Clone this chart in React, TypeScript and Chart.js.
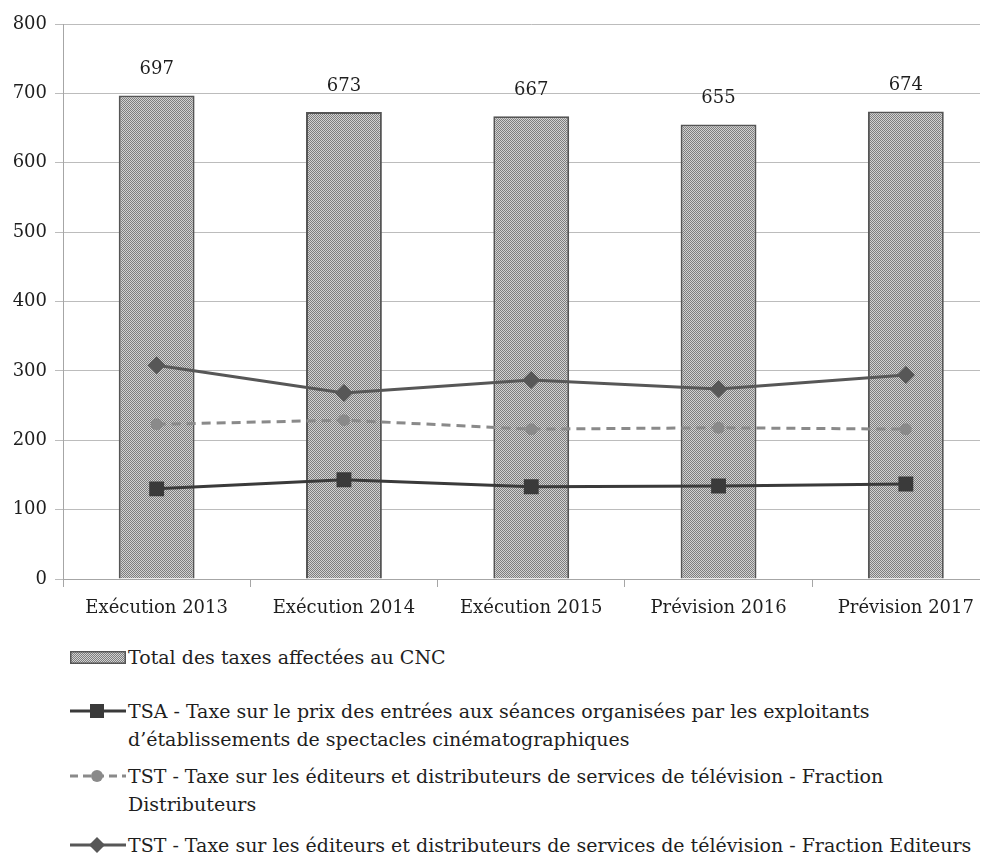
import React, { useEffect, useRef } from "react";
import { Chart, registerables } from "chart.js";

Chart.register(...registerables);

const categories = ["Exécution 2013", "Exécution 2014", "Exécution 2015", "Prévision 2016", "Prévision 2017"];
const totalTaxes = [697, 673, 667, 655, 674];
const tsa = [130, 143, 133, 134, 137];
const tstDistributeurs = [223, 229, 216, 218, 216];
const tstEditeurs = [308, 268, 287, 274, 294];
const yTicks = [0, 100, 200, 300, 400, 500, 600, 700, 800];

const labelTotal = "Total des taxes affectées au CNC";
const labelTsa = ["TSA - Taxe sur le prix des entrées aux séances organisées par les exploitants", "d’établissements de spectacles cinématographiques"];
const labelDistrib = ["TST - Taxe sur les éditeurs et distributeurs de services de télévision - Fraction", "Distributeurs"];
const labelEditeurs = ["TST - Taxe sur les éditeurs et distributeurs de services de télévision - Fraction Editeurs"];

const FONT = "'DejaVu Serif', serif";
const FS = 18;
const LFS = 19;
const TEXT = "#1e1e1e";
const C_TSA = "#3a3a3a";
const C_DIS = "#8a8a8a";
const C_EDI = "#575757";

function makePattern(): CanvasPattern | string {
  const c = document.createElement("canvas");
  c.width = 2;
  c.height = 2;
  const g = c.getContext("2d");
  if (!g) return "#a8a8a8";
  g.fillStyle = "#d2d2d2";
  g.fillRect(0, 0, 2, 2);
  g.fillStyle = "#7e7e7e";
  g.fillRect(0, 0, 1, 1);
  g.fillRect(1, 1, 1, 1);
  const p = g.createPattern(c, "repeat");
  return p || "#a8a8a8";
}

const valueLabels = {
  id: "valueLabels",
  afterDatasetsDraw(chart: any) {
    const meta = chart.getDatasetMeta(0);
    const ctx = chart.ctx;
    ctx.save();
    ctx.font = `${FS}px ${FONT}`;
    ctx.fillStyle = TEXT;
    ctx.textAlign = "center";
    ctx.textBaseline = "middle";
    meta.data.forEach((bar: any, i: number) => {
      ctx.fillText(String(totalTaxes[i]), bar.x, bar.y - 26);
    });
    ctx.restore();
  },
};

export default function App() {
  const ref = useRef<HTMLCanvasElement>(null);
  useEffect(() => {
    if (!ref.current) return;
    const pattern = makePattern();
    const chart = new Chart(ref.current, {
      type: "bar",
      data: {
        labels: categories,
        datasets: [
          {
            type: "bar",
            label: labelTotal,
            data: totalTaxes,
            backgroundColor: pattern as any,
            borderColor: "#555555",
            borderWidth: 2,
            barPercentage: 0.405,
            categoryPercentage: 1,
            order: 10,
          },
          {
            type: "line",
            label: labelTsa.join(" "),
            data: tsa,
            borderColor: C_TSA,
            backgroundColor: C_TSA,
            borderWidth: 3,
            pointStyle: "rect",
            pointRadius: 10.5,
            pointBorderWidth: 0,
            order: 3,
          },
          {
            type: "line",
            label: labelDistrib.join(" "),
            data: tstDistributeurs,
            borderColor: C_DIS,
            backgroundColor: C_DIS,
            borderWidth: 3,
            borderDash: [9, 6],
            pointStyle: "circle",
            pointRadius: 6,
            pointBorderWidth: 0,
            order: 2,
          },
          {
            type: "line",
            label: labelEditeurs.join(" "),
            data: tstEditeurs,
            borderColor: C_EDI,
            backgroundColor: C_EDI,
            borderWidth: 3,
            pointStyle: "rectRot",
            pointRadius: 9,
            pointBorderWidth: 0,
            order: 1,
          },
        ],
      },
      options: {
        responsive: false,
        animation: false,
        layout: { padding: { top: 24, right: 0, left: 0, bottom: 0 } },
        plugins: {
          legend: { display: false },
          tooltip: { enabled: false },
        },
        scales: {
          x: {
            offset: true,
            grid: {
              offset: true,
              drawOnChartArea: false,
              drawTicks: true,
              tickLength: 8,
              color: "#a6a6a6",
            },
            border: { color: "#a6a6a6", width: 1 },
            ticks: {
              color: TEXT,
              font: { family: FONT, size: FS },
              padding: 11,
              maxRotation: 0,
            },
            afterFit(scale: any) {
              scale.height = 46;
            },
          },
          y: {
            min: 0,
            max: 800,
            afterBuildTicks(scale: any) {
              scale.ticks = yTicks.map((v) => ({ value: v }));
            },
            grid: {
              color: "#bcbcbc",
              lineWidth: 1,
              drawTicks: true,
              tickLength: 8,
            },
            border: { color: "#a6a6a6", width: 1 },
            ticks: {
              color: TEXT,
              font: { family: FONT, size: FS },
              padding: 8,
            },
            afterFit(scale: any) {
              scale.width = 63;
            },
          },
        },
      },
      plugins: [valueLabels],
    });
    return () => chart.destroy();
  }, []);

  const textStyle: React.CSSProperties = {
    position: "absolute",
    left: 128,
    fontFamily: FONT,
    fontSize: LFS,
    color: TEXT,
    lineHeight: "28px",
    whiteSpace: "nowrap",
  };

  const lineSwatch = (top: number, color: string, dash: boolean, marker: "rect" | "circle" | "diamond") => (
    <svg style={{ position: "absolute", left: 68, top: top - 10 }} width={60} height={20}>
      <line x1={2} y1={10} x2={58} y2={10} stroke={color} strokeWidth={3} strokeDasharray={dash ? "8 5" : undefined} />
      {marker === "rect" && <rect x={22} y={3} width={14} height={14} fill={color} />}
      {marker === "circle" && <circle cx={29} cy={10} r={6} fill={color} />}
      {marker === "diamond" && <polygon points="29,2 37,10 29,18 21,10" fill={color} />}
    </svg>
  );

  return (
    <div style={{ position: "relative", margin: -8, width: 988, height: 861, overflow: "hidden", background: "#fff" }}>
      <canvas ref={ref} width={1010} height={625} style={{ position: "absolute", left: 0, top: 0 }} />
      <svg style={{ position: "absolute", left: 70, top: 651 }} width={56} height={13}>
        <defs>
          <pattern id="chk" width={2} height={2} patternUnits="userSpaceOnUse">
            <rect width={2} height={2} fill="#d2d2d2" />
            <rect width={1} height={1} fill="#7e7e7e" />
            <rect x={1} y={1} width={1} height={1} fill="#7e7e7e" />
          </pattern>
        </defs>
        <rect x={0.75} y={0.75} width={54.5} height={11.5} fill="url(#chk)" stroke="#555" strokeWidth={1.5} />
      </svg>
      <div style={{ ...textStyle, top: 643 }}>{labelTotal}</div>

      {lineSwatch(711, C_TSA, false, "rect")}
      <div style={{ ...textStyle, top: 697 }}>
        {labelTsa[0]}
        <br />
        {labelTsa[1]}
      </div>

      {lineSwatch(776, C_DIS, true, "circle")}
      <div style={{ ...textStyle, top: 762 }}>
        {labelDistrib[0]}
        <br />
        {labelDistrib[1]}
      </div>

      {lineSwatch(845, C_EDI, false, "diamond")}
      <div style={{ ...textStyle, top: 831 }}>{labelEditeurs[0]}</div>
    </div>
  );
}
